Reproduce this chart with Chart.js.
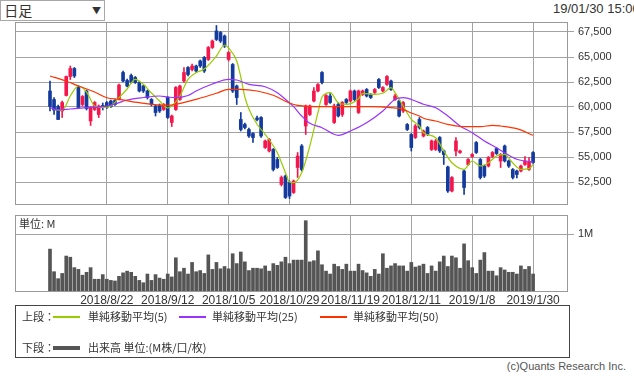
<!DOCTYPE html>
<html lang="ja">
    <head>
        <meta charset="utf-8" />
        <title>日足チャート</title>
        <style>
            body {
                margin: 0;
                width: 634px;
                height: 376px;
                overflow: hidden;
                position: relative;
                background: #ffffff;
                color: #333333;
                font-family: "Liberation Sans", Arial, sans-serif;
            }
            .abs {
                position: absolute;
                white-space: nowrap;
            }
            .jp {
                font-family: "Noto Sans CJK JP", sans-serif;
            }
            #period {
                left: 0;
                top: 0;
                width: 103px;
                height: 19px;
                border: 1px solid #a8a8a8;
                font-size: 14px;
                line-height: 19px;
            }
            #period .arrow {
                position: absolute;
                left: 91px;
                top: 0;
                font-size: 9px;
            }
            #stamp {
                left: 553px;
                top: 1px;
                font-size: 13px;
            }
            #unit {
                left: 19px;
                top: 215px;
                font-size: 11px;
            }
            #legend {
                left: 15px;
                top: 305px;
                width: 553px;
                height: 51px;
                border: 1px solid #444444;
            }
            #legend .t {
                position: absolute;
                font-size: 11px;
                line-height: 14px;
                white-space: nowrap;
            }
            #legend .ln {
                position: absolute;
                width: 27px;
                height: 2px;
            }
            #copy {
                right: 8px;
                top: 360px;
                font-size: 11px;
                color: #555555;
            }
            canvas {
                position: absolute;
                left: 0;
            }
        </style>
    </head>
    <body>
        <div id="period" class="abs jp">&nbsp;日足<span class="arrow">▼</span></div>
        <div id="stamp" class="abs">19/01/30 15:00</div>

        <canvas id="priceChart" width="634" height="210" style="top: 0"></canvas>
        <canvas id="volumeChart" width="634" height="110" style="top: 210px"></canvas>
        <div id="unit" class="abs jp">単位: M</div>

        <div id="legend" class="abs jp">
            <span class="t" style="left: 6px; top: 3px">上段：</span>
            <span class="ln" style="left: 37px; top: 10px; background: #99cc00"></span>
            <span class="t" style="left: 72px; top: 3px">単純移動平均(5)</span>
            <span class="ln" style="left: 163px; top: 10px; background: #9933ff"></span>
            <span class="t" style="left: 196px; top: 3px">単純移動平均(25)</span>
            <span class="ln" style="left: 304px; top: 10px; background: #ff3300"></span>
            <span class="t" style="left: 337px; top: 3px">単純移動平均(50)</span>
            <span class="t" style="left: 6px; top: 34px">下段：</span>
            <span class="ln" style="left: 37px; top: 40px; height: 4px; background: #555555"></span>
            <span class="t" style="left: 72px; top: 34px">出来高 単位:(M株/口/枚)</span>
        </div>
        <div id="copy" class="abs">(c)Quants Research Inc.</div>

        <script src="https://cdn.jsdelivr.net/npm/chart.js"></script>
        <script>
            // daily candles, index 0 = first shown session, 119 = 2019/1/30
            const opens = [
                61600, 60750, 60050, 59600, 61150, 63050, 63850, 61950, 60250, 61600,
                58600, 59750, 59250, 60150, 60450, 60600, 60650, 60750, 63450, 62650,
                63150, 62950, 62450, 62100, 61600, 60750, 60100, 60150, 59750, 60950,
                58450, 59750, 60750, 62600, 63950, 63750, 64100, 64600, 64950, 64750,
                65950, 67600, 67450, 67100, 64750, 64250, 62100, 58750, 58250, 57750,
                57350, 58900, 58950, 55950, 55600, 55750, 54750, 52250, 53100, 52450,
                51450, 53950, 56100, 58100, 59250, 60600, 61600, 63450, 60250, 61100,
                58450, 60250, 59250, 60750, 60600, 61600, 59450, 61250, 61750, 61250,
                61450, 62750, 61600, 62250, 62600, 60750, 60600, 59600, 58250, 57250,
                56950, 58750, 57100, 57950, 55750, 55750, 56950, 55600, 54000, 51600,
                55600, 55450, 53600, 54250, 55050, 56450, 54750, 54100, 54100, 55050,
                55850, 54600, 56100, 54600, 53750, 53600, 53600, 54250, 53750, 55450,
            ];
            const highs = [
                62600, 60950, 60200, 60600, 63100, 64100, 63950, 62150, 61150, 61700,
                60050, 60550, 60200, 60400, 60550, 60700, 60750, 62300, 63600, 62800,
                63300, 63050, 62550, 62200, 61700, 60850, 60200, 60300, 60350, 61050,
                59200, 62050, 62200, 63950, 64050, 64300, 64200, 64700, 65050, 66050,
                66700, 68150, 67550, 67200, 65550, 64350, 62200, 59450, 58400, 57900,
                57450, 59100, 59050, 56700, 56850, 55850, 54950, 53100, 53200, 52600,
                52700, 55450, 56250, 60200, 60200, 61950, 62350, 63550, 61250, 61350,
                60300, 60400, 60550, 60850, 61700, 61700, 61700, 61700, 61850, 61350,
                61850, 62850, 62050, 63150, 62700, 61300, 60700, 60550, 58350, 57350,
                58250, 58950, 57700, 58050, 56700, 56750, 57050, 55700, 54100, 53050,
                56950, 55700, 53700, 54850, 55350, 56550, 54850, 54200, 55050, 55550,
                55950, 55350, 56200, 54700, 53850, 53700, 54200, 55050, 54950, 55550,
            ];
            const lows = [
                59600, 59250, 58750, 58950, 61100, 62750, 62950, 59850, 60100, 59700,
                58150, 59650, 58950, 59700, 59850, 59950, 60150, 60700, 62500, 62000,
                62400, 62350, 61500, 61450, 60800, 60100, 59100, 59450, 59650, 58850,
                58050, 59650, 60650, 62450, 63100, 63600, 63450, 63950, 63450, 64650,
                65850, 66650, 66450, 65950, 64600, 61450, 60250, 57600, 57800, 56950,
                56450, 58600, 56950, 55850, 55500, 53600, 53850, 52100, 50850, 50850,
                51350, 52950, 53600, 57250, 59150, 60500, 61500, 62300, 60150, 60350,
                58350, 59000, 59050, 60350, 60500, 60650, 59350, 61150, 61000, 60850,
                61350, 61850, 61500, 62150, 61650, 60650, 59000, 59450, 57650, 55600,
                56850, 57800, 57000, 57150, 55650, 55650, 55450, 54250, 51450, 51500,
                55100, 55350, 51250, 54150, 54950, 55350, 52800, 52950, 54000, 54950,
                55250, 53950, 54500, 53950, 52800, 52900, 53500, 54150, 53650, 54350,
            ];
            const closes = [
                60050, 59700, 58750, 60450, 63050, 63850, 63100, 59950, 61050, 59850,
                59950, 60450, 60100, 59950, 59950, 60050, 60250, 62200, 62600, 62100,
                62500, 62450, 61600, 61600, 60950, 60250, 59450, 59600, 60250, 58950,
                59100, 61950, 62100, 63450, 63250, 64100, 63600, 64100, 63600, 65950,
                66600, 66750, 66600, 66100, 65450, 61600, 60950, 57750, 57950, 57100,
                56950, 58750, 57100, 56600, 56750, 53750, 53950, 52950, 50950, 51100,
                52600, 55100, 53750, 60100, 60100, 61600, 62250, 62450, 61150, 60450,
                60100, 59100, 60450, 60450, 61600, 60750, 61600, 61600, 61100, 60950,
                61750, 61950, 61950, 63050, 61750, 61100, 59100, 60450, 57750, 55950,
                58100, 57950, 57600, 57250, 56600, 56600, 55600, 55250, 51600, 52950,
                56600, 55600, 51950, 54750, 55250, 55450, 52950, 53100, 54950, 55450,
                55350, 55250, 54600, 54100, 52950, 53250, 54100, 54600, 54500, 54450,
            ];
            // volume in M shares
            const volumes = [
                0.74, 0.35, 0.23, 0.32, 0.62, 0.60, 0.42, 0.39, 0.29, 0.34,
                0.42, 0.22, 0.22, 0.30, 0.22, 0.20, 0.19, 0.27, 0.33, 0.36,
                0.34, 0.27, 0.20, 0.16, 0.31, 0.20, 0.30, 0.24, 0.22, 0.31,
                0.26, 0.59, 0.35, 0.41, 0.31, 0.51, 0.35, 0.37, 0.32, 0.64,
                0.39, 0.51, 0.40, 0.44, 0.40, 0.66, 0.49, 0.69, 0.52, 0.37,
                0.41, 0.41, 0.40, 0.45, 0.36, 0.49, 0.46, 0.52, 0.60, 0.49,
                0.55, 0.55, 0.55, 1.23, 0.52, 0.54, 0.71, 0.47, 0.36, 0.31,
                0.48, 0.44, 0.39, 0.48, 0.36, 0.36, 0.48, 0.37, 0.33, 0.27,
                0.39, 0.31, 0.66, 0.41, 0.45, 0.49, 0.45, 0.45, 0.36, 0.51,
                0.43, 0.45, 0.48, 0.32, 0.45, 0.36, 0.52, 0.62, 0.44, 0.62,
                0.59, 0.41, 0.83, 0.54, 0.42, 0.32, 0.55, 0.68, 0.36, 0.36,
                0.28, 0.42, 0.38, 0.34, 0.34, 0.31, 0.45, 0.39, 0.44, 0.31,
            ];
            // moving averages: [session index, value]
            const ma5 = [
                [1, 59770], [3, 59650], [5, 61100], [7, 62100], [9, 61500], [11, 60100],
                [13, 59930], [15, 60100], [17, 60930], [19, 61800], [21, 62770], [23, 62270],
                [25, 61400], [27, 60600], [29, 59900], [30, 60100], [32, 61100], [34, 62770],
                [36, 63430], [38, 63800], [41, 65100], [43, 66200], [44, 65900], [46, 64600],
                [47, 63000], [48, 61000], [49, 59800], [51, 58270], [53, 57270], [56, 55430],
                [58, 53430], [59, 52500], [60, 52430], [62, 53430], [64, 56100], [66, 59430],
                [67, 61000], [69, 61430], [71, 60430], [73, 60270], [76, 60830], [77, 61370],
                [80, 61270], [82, 61370], [84, 61930], [85, 61430], [87, 60100], [89, 58770],
                [91, 58100], [92, 57430], [95, 56930], [97, 55600], [99, 54430], [102, 53770],
                [104, 54600], [106, 54100], [108, 54430], [110, 55100], [112, 55270], [114, 54400],
                [116, 53770], [118, 53830], [119, 54270],
            ];
            const ma25 = [
                [0, 59930], [2, 59700], [5, 59800], [9, 59930], [13, 60030], [16, 60300],
                [19, 60700], [23, 60950], [27, 61100], [29, 61000], [31, 60930], [34, 61150],
                [36, 61600], [40, 62300], [44, 62770], [46, 62700], [49, 62270], [53, 62030],
                [56, 61430], [58, 60770], [60, 60030], [62, 59100], [64, 58370], [67, 57930],
                [71, 57170], [74, 57600], [78, 58430], [82, 59600], [85, 60770], [87, 60930],
                [90, 60600], [92, 60270], [95, 59930], [98, 59100], [101, 58100], [104, 57430],
                [107, 56600], [110, 55930], [112, 55430], [115, 54770], [117, 54600], [119, 54500],
            ];
            const ma50 = [
                [0, 63100], [4, 62600], [7, 62100], [11, 61500], [14, 60930], [17, 60770],
                [22, 60430], [29, 60170], [31, 60270], [36, 60770], [41, 61370], [44, 61770],
                [47, 61770], [51, 61600], [55, 61170], [59, 60400], [61, 60170], [67, 60030],
                [74, 60030], [79, 60030], [84, 59930], [87, 59770], [89, 59400], [91, 59100],
                [92, 58870], [95, 58600], [98, 58270], [102, 58030], [106, 58030], [109, 58170],
                [111, 58100], [115, 57830], [119, 57170],
            ];
            const dateTickIdx = [14, 29, 44, 59, 74, 89, 104, 119];
            const dateTickLabels = [
                "2018/8/22", "2018/9/12", "2018/10/5", "2018/10/29",
                "2018/11/19", "2018/12/11", "2019/1/8", "2019/1/30",
            ];
            const priceTicks = [52500, 55000, 57500, 60000, 62500, 65000, 67500];
            const volumeTicks = [1];

            const UP = "#f5174b";
            const DOWN = "#133a9c";
            const GRID = "#a3a3a3";
            const candleColors = closes.map((c, i) => (c >= opens[i] ? UP : DOWN));

            const frame = {
                id: "frame",
                afterDraw(chart) {
                    const { ctx, chartArea: a } = chart;
                    ctx.save();
                    ctx.strokeStyle = "#999999";
                    ctx.lineWidth = 1;
                    ctx.strokeRect(
                        Math.round(a.left) + 0.5,
                        Math.round(a.top) + 0.5,
                        Math.round(a.right - a.left) - 1,
                        Math.round(a.bottom - a.top) - 1
                    );
                    ctx.restore();
                },
            };

            function xScale(showLabels) {
                return {
                    type: "linear",
                    min: -8.62,
                    max: 127.6,
                    offset: false,
                    afterBuildTicks: (s) => {
                        s.ticks = dateTickIdx.map((v) => ({ value: v }));
                    },
                    afterFit: (s) => {
                        s.height = showLabels ? 28 : 0;
                        s.paddingLeft = 0;
                        s.paddingRight = 0;
                    },
                    grid: { color: GRID, drawTicks: false, offset: false },
                    border: { display: false },
                    ticks: {
                        display: showLabels,
                        autoSkip: false,
                        maxRotation: 0,
                        minRotation: 0,
                        padding: 1,
                        color: "#333333",
                        font: { family: "Liberation Sans", size: 12 },
                        callback: (v, i) => dateTickLabels[i],
                    },
                };
            }

            function yScale(min, max, ticks, label) {
                return {
                    position: "right",
                    min: min,
                    max: max,
                    afterBuildTicks: (s) => {
                        s.ticks = ticks.map((v) => ({ value: v }));
                    },
                    afterFit: (s) => {
                        s.width = 66;
                        s.paddingTop = 0;
                        s.paddingBottom = 0;
                    },
                    grid: { color: GRID, tickLength: 6 },
                    border: { display: false },
                    ticks: {
                        padding: 4,
                        color: "#333333",
                        font: { family: "Liberation Sans", size: 11 },
                        callback: label,
                    },
                };
            }

            const common = {
                responsive: false,
                animation: false,
                devicePixelRatio: 1,
                events: [],
                plugins: { legend: { display: false }, tooltip: { enabled: false } },
            };

            function maLine(points, color) {
                return {
                    type: "line",
                    data: points.map(([x, y]) => ({ x, y })),
                    borderColor: color,
                    borderWidth: 1.2,
                    pointRadius: 0,
                    cubicInterpolationMode: "monotone",
                    order: 0,
                };
            }

            new Chart(document.getElementById("priceChart"), {
                type: "bar",
                data: {
                    datasets: [
                        {
                            data: opens.map((o, i) => ({ x: i, y: [lows[i], highs[i]] })),
                            backgroundColor: candleColors,
                            barThickness: 1,
                            grouped: false,
                            order: 2,
                        },
                        {
                            data: opens.map((o, i) => ({ x: i, y: [o, closes[i]] })),
                            backgroundColor: candleColors,
                            barThickness: 3,
                            grouped: false,
                            order: 1,
                        },
                        maLine(ma50, "#ff3300"),
                        maLine(ma25, "#9933ff"),
                        maLine(ma5, "#99cc00"),
                    ],
                },
                options: {
                    ...common,
                    layout: { padding: { left: 15, top: 22, right: 0, bottom: 5 } },
                    scales: {
                        x: xScale(false),
                        y: yScale(50200, 68500, priceTicks, (v) => v.toLocaleString("en-US")),
                    },
                },
                plugins: [frame],
            });

            new Chart(document.getElementById("volumeChart"), {
                type: "bar",
                data: {
                    datasets: [
                        {
                            data: volumes.map((v, i) => ({ x: i, y: v })),
                            backgroundColor: "#555555",
                            barThickness: 3,
                        },
                    ],
                },
                options: {
                    ...common,
                    layout: { padding: { left: 15, top: 5, right: 0, bottom: 0 } },
                    scales: {
                        x: xScale(true),
                        y: yScale(0, 1.328, volumeTicks, () => "1M"),
                    },
                },
                plugins: [frame],
            });
        </script>
    </body>
</html>
